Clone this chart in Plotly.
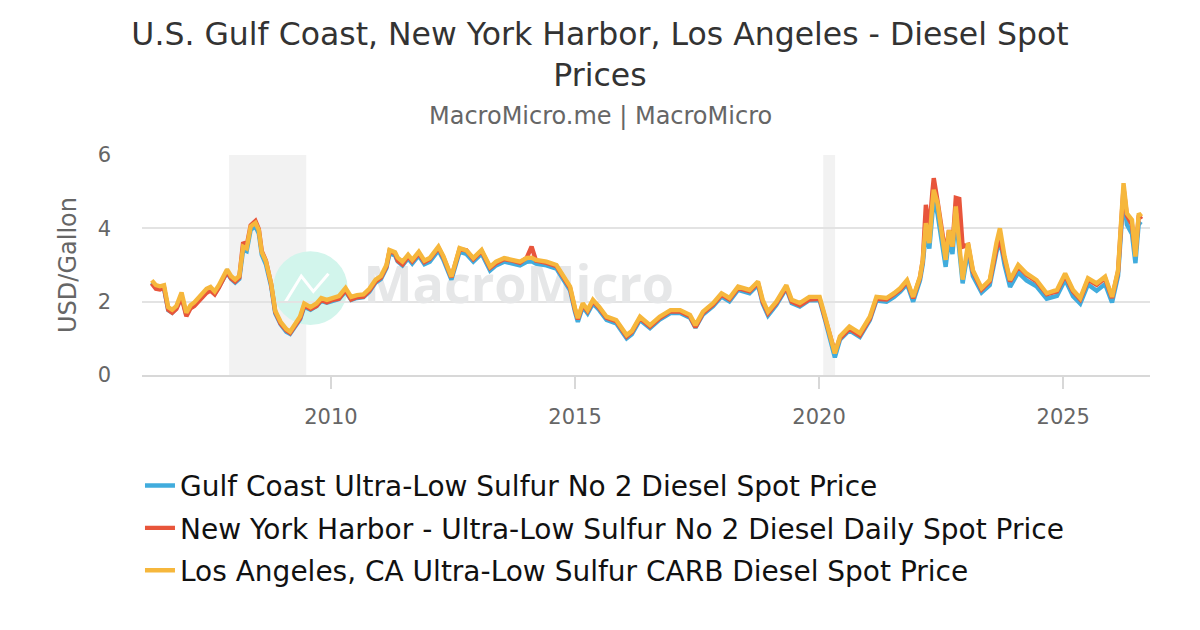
import plotly.graph_objects as go

dates = [
    "2006-05-01", "2006-06-01", "2006-07-01", "2006-08-01", "2006-09-01", "2006-10-01", "2006-11-01", "2006-12-10",
    "2007-01-15", "2007-02-15", "2007-03-15", "2007-04-15", "2007-05-15", "2007-06-15", "2007-07-15", "2007-08-15",
    "2007-09-15", "2007-10-15", "2007-11-15", "2007-12-15",
    "2008-01-15", "2008-02-15", "2008-03-15", "2008-04-10", "2008-05-10", "2008-06-15", "2008-07-10", "2008-08-01",
    "2008-09-01", "2008-10-10", "2008-11-10", "2008-12-20",
    "2009-02-01", "2009-03-01", "2009-04-10", "2009-05-15", "2009-06-15", "2009-08-01", "2009-09-15", "2009-10-20",
    "2009-12-01",
    "2010-01-15", "2010-03-01", "2010-04-20", "2010-06-01", "2010-07-15", "2010-09-01", "2010-10-15", "2010-12-01",
    "2011-01-10", "2011-02-20", "2011-03-15", "2011-04-25", "2011-05-15", "2011-06-20", "2011-08-01", "2011-09-01",
    "2011-10-20", "2011-12-01",
    "2012-01-10", "2012-03-15", "2012-04-20", "2012-06-20", "2012-08-20", "2012-10-10", "2012-12-01",
    "2013-02-01", "2013-04-05", "2013-05-20", "2013-07-20", "2013-09-20", "2013-11-15",
    "2014-01-05", "2014-02-10", "2014-03-15", "2014-06-01", "2014-08-15", "2014-10-01", "2014-11-25",
    "2015-01-01", "2015-01-22", "2015-02-28", "2015-04-05", "2015-05-15", "2015-07-01", "2015-08-25", "2015-11-05",
    "2016-01-22", "2016-03-01", "2016-05-01", "2016-07-15", "2016-09-25", "2016-12-15",
    "2017-02-25", "2017-05-10", "2017-06-20", "2017-08-15", "2017-10-30",
    "2018-01-01", "2018-03-01", "2018-05-05", "2018-07-30", "2018-10-01", "2018-11-05", "2018-12-15",
    "2019-02-15", "2019-05-01", "2019-06-10", "2019-08-10", "2019-10-20",
    "2020-01-05", "2020-02-15", "2020-03-20", "2020-04-28", "2020-06-05", "2020-08-15", "2020-11-01",
    "2021-01-15", "2021-03-05", "2021-05-20", "2021-07-15", "2021-08-30", "2021-10-20", "2021-12-05",
    "2022-01-25", "2022-02-15", "2022-03-10", "2022-04-05", "2022-04-28", "2022-05-08", "2022-06-05", "2022-07-05",
    "2022-08-05", "2022-08-30", "2022-09-25", "2022-10-20", "2022-11-15", "2022-12-10",
    "2023-01-20", "2023-02-25", "2023-05-01", "2023-07-01", "2023-08-20", "2023-09-15", "2023-10-20", "2023-11-30",
    "2024-01-30", "2024-04-01", "2024-06-15", "2024-08-30", "2024-11-15",
    "2025-01-15", "2025-03-15", "2025-05-08", "2025-07-05", "2025-09-08", "2025-11-10",
    "2026-01-01", "2026-02-15", "2026-03-28", "2026-04-22", "2026-05-30", "2026-06-25", "2026-07-20", "2026-08-08",
]

gulf_coast = [
    2.52, 2.38, 2.36, 2.36, 1.77, 1.70, 1.82, 2.15,
    1.64, 1.85, 1.92, 2.05, 2.16, 2.30, 2.34, 2.22,
    2.40, 2.60, 2.80, 2.62,
    2.52, 2.62, 3.42, 3.38, 3.96, 4.05, 3.86, 3.28,
    3.02, 2.42, 1.68, 1.38,
    1.18, 1.12, 1.32, 1.52, 1.86, 1.78, 1.88, 2.02,
    1.97,
    2.02, 2.07, 2.28, 2.05, 2.10, 2.12, 2.27, 2.52,
    2.62, 2.92, 3.32, 3.26, 3.10, 2.99, 3.18, 3.04,
    3.26, 3.02,
    3.09, 3.40, 3.15, 2.60, 3.36, 3.30, 3.09,
    3.31, 2.85, 2.99, 3.09, 3.05, 2.99,
    3.09, 3.10, 3.04, 2.99, 2.90, 2.63, 2.31,
    1.72, 1.45, 1.86, 1.68, 1.95, 1.77, 1.50, 1.41,
    1.00, 1.11, 1.50, 1.28, 1.51, 1.69,
    1.69, 1.56, 1.29, 1.65, 1.88,
    2.14, 2.01, 2.32, 2.23, 2.46, 1.95, 1.62,
    1.91, 2.36, 1.96, 1.87, 2.04,
    2.04, 1.50, 1.04, 0.48, 0.96, 1.22, 1.04,
    1.50, 2.03, 2.00, 2.13, 2.27, 2.48, 2.00,
    2.58, 3.02, 3.90, 3.45, 4.40, 4.80, 4.40, 3.70,
    2.95, 3.72, 3.30, 4.35, 3.30, 2.50,
    3.40, 2.70, 2.25, 2.45, 3.35, 3.70, 3.00, 2.40,
    2.80, 2.58, 2.42, 2.08, 2.16,
    2.60, 2.15, 1.95, 2.47, 2.30, 2.48,
    1.98, 2.70, 4.90, 4.10, 3.85, 3.05, 4.15, 4.10,
]

new_york = [
    2.50, 2.35, 2.33, 2.38, 1.78, 1.70, 1.80, 2.12,
    1.60, 1.82, 1.88, 2.00, 2.08, 2.24, 2.30, 2.20,
    2.38, 2.58, 2.82, 2.64,
    2.55, 2.66, 3.62, 3.52, 4.08, 4.20, 3.98, 3.38,
    3.12, 2.48, 1.72, 1.40,
    1.22, 1.15, 1.36, 1.55, 1.90, 1.80, 1.88, 2.05,
    1.98,
    2.05, 2.08, 2.32, 2.06, 2.12, 2.14, 2.30, 2.55,
    2.66, 2.96, 3.38, 3.32, 3.12, 3.02, 3.24, 3.10,
    3.32, 3.08,
    3.16, 3.47, 3.22, 2.66, 3.43, 3.40, 3.16,
    3.38, 2.92, 3.05, 3.16, 3.12, 3.06,
    3.20, 3.50, 3.12, 3.06, 2.97, 2.70, 2.37,
    1.78, 1.52, 1.92, 1.74, 2.01, 1.83, 1.56, 1.47,
    1.05, 1.17, 1.55, 1.32, 1.55, 1.74,
    1.73, 1.60, 1.30, 1.69, 1.92,
    2.19, 2.06, 2.37, 2.28, 2.51, 2.00, 1.68,
    1.96, 2.40, 2.00, 1.90, 2.06,
    2.08, 1.55, 1.10, 0.62, 1.00, 1.26, 1.08,
    1.54, 2.08, 2.06, 2.20, 2.33, 2.55, 2.09,
    2.66, 3.12, 4.64, 3.95, 5.00, 5.37, 4.75, 3.92,
    3.28, 3.95, 3.50, 4.83, 4.80, 3.50,
    3.55, 2.82, 2.33, 2.55, 3.45, 3.70, 3.15, 2.55,
    2.96, 2.73, 2.55, 2.20, 2.28,
    2.72, 2.28, 2.06, 2.60, 2.46, 2.64,
    2.10, 2.82, 5.10, 4.35, 4.10, 3.30, 4.35, 4.25,
]

los_angeles = [
    2.58, 2.45, 2.42, 2.45, 1.85, 1.78, 1.88, 2.25,
    1.70, 1.90, 1.98, 2.10, 2.20, 2.35, 2.40, 2.28,
    2.45, 2.65, 2.88, 2.70,
    2.60, 2.70, 3.50, 3.45, 4.05, 4.15, 3.95, 3.35,
    3.10, 2.50, 1.75, 1.45,
    1.25, 1.18, 1.40, 1.60, 1.95, 1.85, 1.95, 2.10,
    2.05,
    2.10, 2.15, 2.37, 2.13, 2.18, 2.20, 2.35, 2.60,
    2.70, 3.00, 3.41, 3.35, 3.20, 3.09, 3.28, 3.14,
    3.36, 3.12,
    3.19, 3.50, 3.25, 2.68, 3.46, 3.40, 3.19,
    3.41, 2.95, 3.09, 3.19, 3.15, 3.09,
    3.19, 3.20, 3.14, 3.09, 3.00, 2.73, 2.41,
    1.82, 1.55, 1.96, 1.77, 2.05, 1.86, 1.59, 1.50,
    1.09, 1.20, 1.59, 1.36, 1.59, 1.77,
    1.77, 1.64, 1.36, 1.73, 1.96,
    2.23, 2.10, 2.41, 2.32, 2.55, 2.05, 1.73,
    2.00, 2.45, 2.05, 1.96, 2.13,
    2.13, 1.59, 1.14, 0.59, 1.05, 1.32, 1.14,
    1.59, 2.13, 2.10, 2.23, 2.37, 2.59, 2.13,
    2.68, 3.14, 4.14, 3.60, 4.69, 5.05, 4.69, 3.95,
    3.14, 3.95, 3.50, 4.60, 3.50, 2.60,
    3.60, 2.86, 2.37, 2.59, 3.60, 4.00, 3.23, 2.59,
    3.00, 2.77, 2.59, 2.23, 2.32,
    2.77, 2.32, 2.10, 2.64, 2.50, 2.68,
    2.13, 2.86, 5.23, 4.41, 4.23, 3.23, 4.41, 4.32,
]

series_names = [
    "Gulf Coast Ultra-Low Sulfur No 2 Diesel Spot Price",
    "New York Harbor - Ultra-Low Sulfur No 2 Diesel Daily Spot Price",
    "Los Angeles, CA Ultra-Low Sulfur CARB Diesel Spot Price",
]
series_colors = ["#41acdd", "#e8553b", "#f6b73c"]

recessions = [("2007-12-01", "2009-06-30"), ("2020-02-01", "2020-04-30")]
year_ticks = ["2010-01-01", "2015-01-01", "2020-01-01", "2025-01-01"]
year_labels = ["2010", "2015", "2020", "2025"]

fig = go.Figure()

# watermark text sits under the lines
fig.add_trace(go.Scatter(
    x=["2013-11-06"], y=[2.32], mode="text", text=["MacroMicro"],
    textfont=dict(family="Open Sans", size=52, color="#e6e7e8", weight="bold"),
    showlegend=False, hoverinfo="skip",
))

for name, values, color in zip(series_names, [gulf_coast, new_york, los_angeles], series_colors):
    fig.add_trace(go.Scatter(
        x=dates, y=values, name=name, mode="lines",
        line=dict(color=color, width=4.4),
        legendgroup=name,
    ))

for start, end in recessions:
    fig.add_shape(type="rect", xref="x", yref="paper", x0=start, x1=end, y0=0, y1=1,
                  fillcolor="#f2f2f2", line_width=0, layer="below")

# watermark logo
fig.add_shape(type="circle", xref="paper", yref="paper",
              x0=0.130, x1=0.204, y0=0.227, y1=0.563,
              fillcolor="#d2f5ec", line_width=0, layer="below")
fig.add_shape(type="path", xref="paper", yref="paper",
              path="M 0.142,0.33 L 0.158,0.45 L 0.170,0.38 L 0.185,0.46",
              line=dict(color="white", width=3), layer="below")

# the page body adds 8px, so margins are shifted back by that much
fig.update_layout(
    width=1200, height=630,
    paper_bgcolor="white", plot_bgcolor="white",
    margin=dict(l=134, r=58, t=147, b=263),
    font=dict(family="DejaVu Sans", color="#666666"),
    title=dict(
        text="U.S. Gulf Coast, New York Harbor, Los Angeles - Diesel Spot<br>Prices",
        x=0.4933, xanchor="center", y=0.941, yanchor="top",
        font=dict(size=31.5, color="#333333"),
    ),
    annotations=[dict(
        text="MacroMicro.me | MacroMicro", xref="paper", yref="paper",
        x=0.4544, y=1.177, xanchor="center", yanchor="middle", showarrow=False,
        font=dict(size=24, color="#666666"),
    )],
    legend=dict(
        orientation="v", x=-0.002, y=-0.39, xanchor="left", yanchor="top",
        font=dict(size=28, color="#111111"), tracegroupgap=3,
    ),
    xaxis=dict(
        type="date", range=["2006-02-17", "2026-10-12"],
        showgrid=False, showline=True, linecolor="#d8d8d8", linewidth=2,
        ticks="outside", ticklen=12, tickcolor="#d8d8d8", tickwidth=2,
        tickvals=year_ticks, ticktext=year_labels,
        tickfont=dict(size=21, color="#666666"), ticklabelstandoff=10,
    ),
    yaxis=dict(
        range=[0, 6], tickvals=[0, 2, 4, 6],
        showgrid=True, gridcolor="#e3e3e3", gridwidth=1.5, zeroline=False,
        tickfont=dict(size=21, color="#666666"), ticklabelstandoff=30,
        title=dict(text="USD/Gallon", font=dict(size=24, color="#666666"), standoff=14),
    ),
)

fig.write_html("out.html")
